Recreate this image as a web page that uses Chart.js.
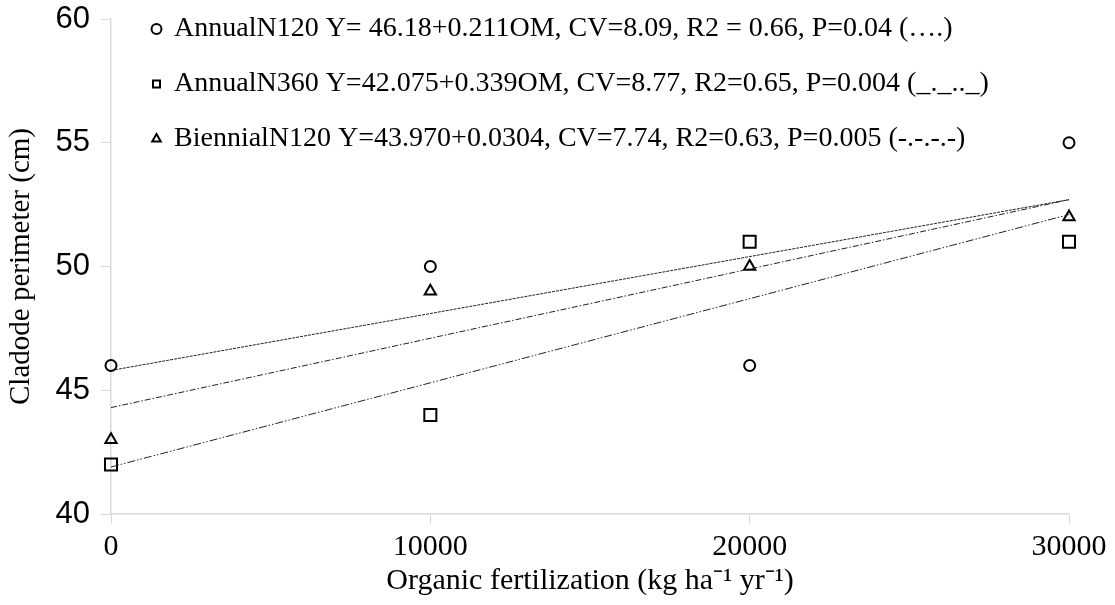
<!DOCTYPE html>
<html>
<head>
<meta charset="utf-8">
<script src="https://cdn.jsdelivr.net/npm/chart.js@4"></script>
<style>
  html, body { margin: 0; padding: 0; background: #fff; }
  #wrap { width: 1115px; height: 605px; }
</style>
</head>
<body>
<div id="wrap"><canvas id="chart"></canvas></div>
<script>
// ---- Data ----

const fertLevels = [0, 10000, 20000, 30000];
const annualN120 = [46, 50, 46, 55];
const annualN360 = [42, 44, 51, 51];
const biennialN120 = [43, 49, 50, 52];

// fitted lines, value at x = 0 and x = 30000
const trendX = [0, 30000];
const trendAnnualN120 = [45.8, 52.7];
const trendAnnualN360 = [41.9, 52.1];
const trendBiennialN120 = [44.3, 52.7];

const xTicks = [0, 10000, 20000, 30000];
const yTicks = [40, 45, 50, 55, 60];

const legendTexts = [
  'AnnualN120 Y= 46.18+0.211OM, CV=8.09, R2 = 0.66, P=0.04 (\u2026.)',
  'AnnualN360 Y=42.075+0.339OM, CV=8.77, R2=0.65, P=0.004 (_._.._)',
  'BiennialN120 Y=43.970+0.0304, CV=7.74, R2=0.63, P=0.005 (-.-.-.-)'
];

// ---- helpers ----

const serif = "'Liberation Serif', 'Times New Roman', serif";
const sans = "'Liberation Sans', Arial, sans-serif";
const axisGray = '#d9d9d9';

function toPoints(xs, ys) {
  return xs.map((x, i) => ({ x: x, y: ys[i] }));
}

function pointSet(label, ys, style, radius) {
  return {
    label: label,
    data: toPoints(fertLevels, ys),
    showLine: false,
    clip: false,
    pointStyle: style,
    pointRadius: radius,
    pointBorderWidth: 2,
    borderWidth: 2,
    borderColor: '#000',
    backgroundColor: 'rgba(0,0,0,0)'
  };
}

function trendSet(ys, dash) {
  return {
    label: 'trend',
    data: toPoints(trendX, ys),
    showLine: true,
    clip: false,
    pointRadius: 0,
    borderColor: '#222',
    borderWidth: 1,
    borderDash: dash,
    fill: false
  };
}

// move the in-plot legend to where the figure has it
const legendShift = {
  id: 'legendShift',
  afterLayout(chart) {
    const lg = chart.legend;
    lg.left = chart.chartArea.left + 15;
    lg.top = chart.chartArea.top - 31;
  }
};

new Chart(document.getElementById('chart'), {
  type: 'scatter',
  data: {
    datasets: [
      trendSet(trendAnnualN120, [3, 1]),
      trendSet(trendAnnualN360, [8, 2, 1.5, 2, 1.5, 2]),
      trendSet(trendBiennialN120, [6, 2, 1.5, 2]),
      pointSet(legendTexts[0], annualN120, 'circle', 5.5),
      pointSet(legendTexts[1], annualN360, 'rect', 8.5),
      pointSet(legendTexts[2], biennialN120, 'triangle', 6.5)
    ]
  },
  options: {
    responsive: true,
    maintainAspectRatio: false,
    animation: false,
    layout: { padding: { top: 19, right: 46, left: 0, bottom: 0 } },
    plugins: {
      tooltip: { enabled: false },
      legend: {
        position: 'chartArea',
        align: 'start',
        labels: {
          filter: item => item.text !== 'trend',
          usePointStyle: true,
          boxWidth: 7,
          boxHeight: 7,
          padding: 27,
          color: '#000',
          font: { family: serif, size: 28 }
        }
      }
    },
    scales: {
      x: {
        type: 'linear',
        min: 0,
        max: 30000,
        afterBuildTicks: s => { s.ticks = xTicks.map(v => ({ value: v })); },
        afterFit: s => { s.height = 91; },
        ticks: {
          color: '#000',
          padding: 5,
          maxRotation: 0,
          font: { family: serif, size: 30 },
          callback: v => String(v)
        },
        grid: { drawOnChartArea: false, tickLength: 10, color: axisGray },
        border: { color: axisGray, width: 1.5 },
        title: {
          display: true,
          text: 'Organic fertilization (kg ha\u207B\u00B9 yr\u207B\u00B9)',
          color: '#000',
          padding: { top: 0, bottom: 6 },
          font: { family: serif, size: 30 }
        }
      },
      y: {
        min: 40,
        max: 60,
        afterBuildTicks: s => { s.ticks = yTicks.map(v => ({ value: v })); },
        afterFit: s => {
          s.width = 111;
          s.paddingTop = 0;
          s.paddingBottom = 0;
        },
        ticks: {
          color: '#000',
          padding: 11,
          font: { family: sans, size: 31 }
        },
        grid: { drawOnChartArea: false, tickLength: 10, color: axisGray },
        border: { color: axisGray, width: 1.5 },
        title: {
          display: true,
          text: 'Cladode perimeter (cm)',
          color: '#000',
          padding: { top: 4, bottom: 0 },
          font: { family: serif, size: 29 }
        }
      }
    }
  },
  plugins: [legendShift]
});
</script>
</body>
</html>
